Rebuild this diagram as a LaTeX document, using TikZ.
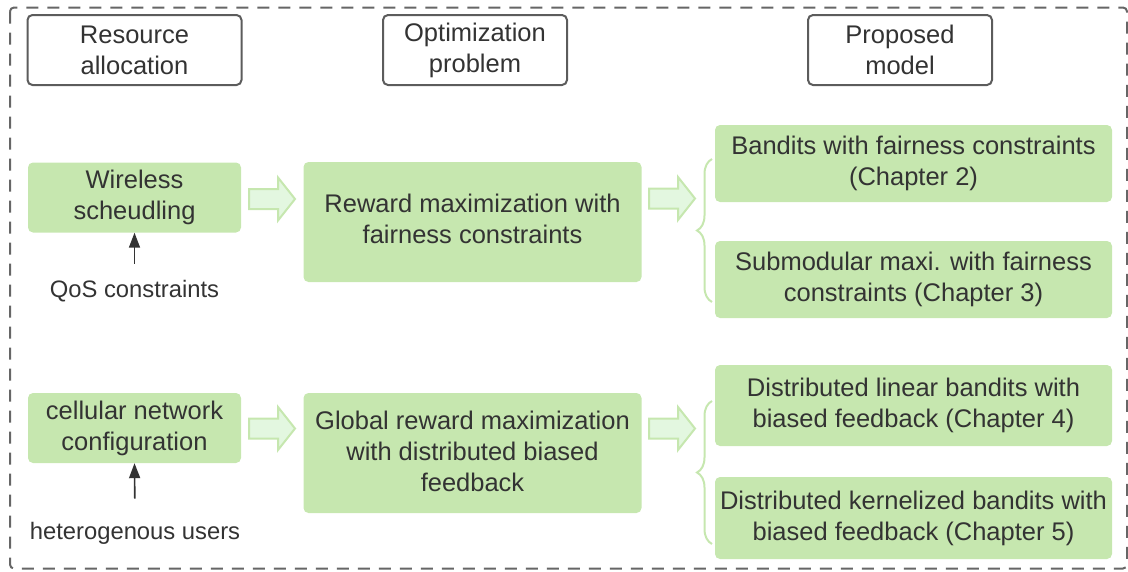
\documentclass[tikz,border=0pt]{standalone}
\usepackage{fontspec}
\setmainfont{Liberation Sans}
\usetikzlibrary{decorations.pathreplacing,arrows.meta}
\definecolor{txt}{HTML}{333333}
\definecolor{leaf}{HTML}{C6E7AF}
\definecolor{paleleaf}{HTML}{E3F7E0}
\definecolor{frame}{HTML}{666666}
\definecolor{hdr}{HTML}{5C5C5C}
\tikzset{
  boxfont/.style={font=\fontsize{25.5}{31}\selectfont, text=txt, align=center},
  header/.style={boxfont, draw=hdr, line width=2pt, fill=white, rounded corners=5pt,
                 minimum width=214pt, minimum height=70pt, inner sep=0pt},
  greenbox/.style={boxfont, fill=leaf, rounded corners=5pt, inner sep=0pt},
  sidelabel/.style={font=\fontsize{23.8}{28}\selectfont, text=txt, inner sep=0pt},
  smallarrow/.style={draw=txt, line width=1.6pt, -{Triangle[length=15pt,width=11pt]}},
  bracket/.style={draw=leaf, line width=2pt, decorate, decoration={brace, amplitude=15pt}},
  fatarrow/.pic={
    \draw[draw=leaf, fill=paleleaf, line width=2pt, line join=miter]
      (0,-10) -- (29,-10) -- (29,-21.5) -- (46,0) -- (29,21.5) -- (29,10) -- (0,10) -- cycle;
  }
}
\begin{document}
\begin{tikzpicture}[x=1pt,y=-1pt]
\useasboundingbox (0,0) rectangle (1128,571);
% outer dashed frame
\draw[frame, line width=2pt, dash pattern=on 12pt off 9pt, rounded corners=4pt]
  (10,7.5) rectangle (1127,568.5);

% column headers
\node[header] (hres) at (134.5,50) {Resource\\allocation};
\node[header, minimum width=184pt] (hopt) at (475,50) {Optimization\\problem};
\node[header, minimum width=184pt] (hmod) at (900,50) {Proposed\\model};

% left column
\node[greenbox, minimum width=213pt, minimum height=70pt] (wire) at (134.5,197.5) {Wireless\\scheudling};
\node[greenbox, minimum width=213pt, minimum height=70pt] (cell) at (134.5,428) {cellular network\\configuration};
\node[sidelabel] (qos) at (134.5,291) {QoS constraints};
\node[sidelabel] (het) at (135,533) {heterogenous users};
\draw[smallarrow, shorten <=16pt] (qos.north) -- (wire.south);
\draw[smallarrow, shorten <=23pt] (het.north) -- (cell.south);

% middle column
\node[greenbox, minimum width=338pt, minimum height=120pt] (rew) at (472.5,222) {Reward maximization with\\fairness constraints\\[-24pt]};
\node[greenbox, minimum width=338pt, minimum height=120pt] (glob) at (472.5,453) {Global reward maximization\\with distributed biased\\feedback\\[-27pt]};

% right column
\node[greenbox, minimum width=397pt, minimum height=77pt] (ch2) at (913.5,163.5) {Bandits with fairness constraints\\(Chapter 2)};
\node[greenbox, minimum width=397pt, minimum height=77pt] (ch3) at (913.5,279.5) {Submodular maxi. with fairness\\constraints (Chapter 3)};
\node[greenbox, minimum width=397pt, minimum height=81pt] (ch4) at (913.5,405.5) {Distributed linear bandits with\\biased feedback (Chapter 4)};
\node[greenbox, minimum width=397pt, minimum height=82pt] (ch5) at (913.5,518) {Distributed kernelized bandits with\\biased feedback (Chapter 5)};

% block arrows between columns
\pic at (249,199) {fatarrow};
\pic at (649,198.5) {fatarrow};
\pic at (249,428.5) {fatarrow};
\pic at (649,428.5) {fatarrow};

% braces grouping the chapters
\draw[bracket] (712,302) -- (712,159);
\draw[bracket] (712,544) -- (712,401);
\end{tikzpicture}
\end{document}
